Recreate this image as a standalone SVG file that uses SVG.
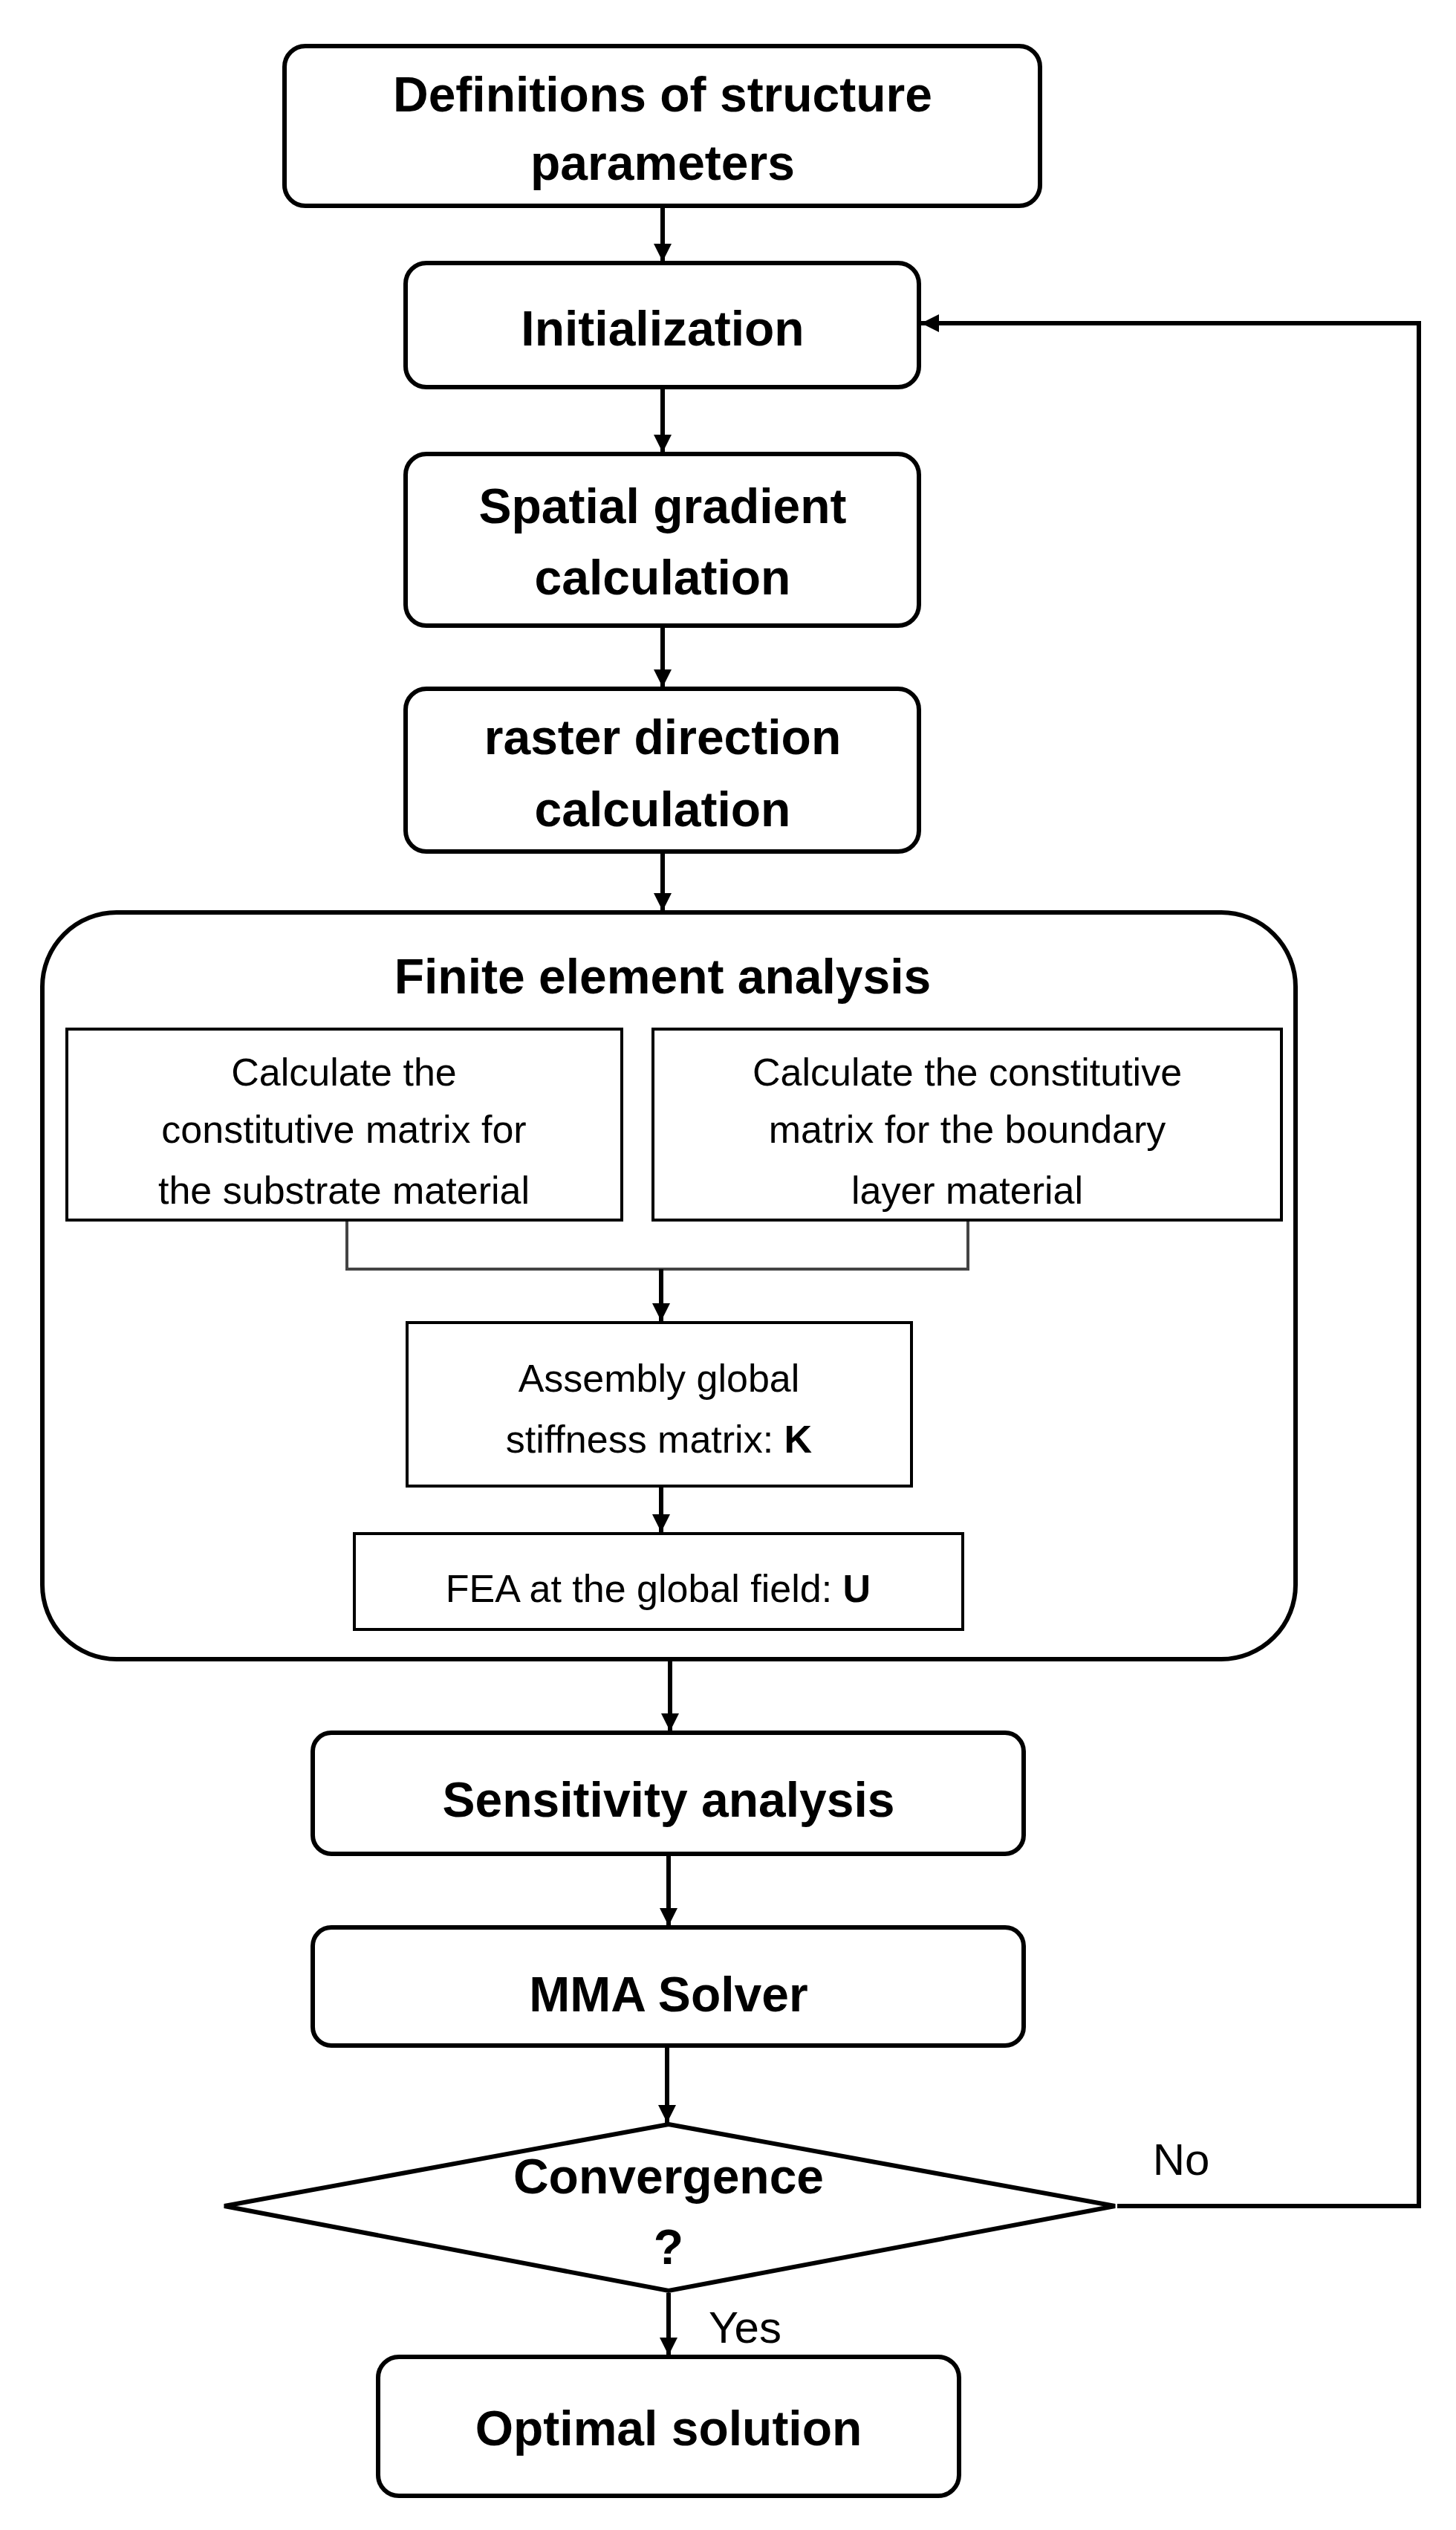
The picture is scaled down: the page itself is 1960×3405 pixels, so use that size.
<svg xmlns="http://www.w3.org/2000/svg" width="1960" height="3405" viewBox="0 0 1960 3405">
<style>
.b{fill:#fff;stroke:#000;stroke-width:6}
.i{fill:#fff;stroke:#000;stroke-width:4}
.t{font-family:"Liberation Sans",Arial,sans-serif;font-weight:bold;font-size:66px;text-anchor:middle;fill:#000}
.s{font-family:"Liberation Sans",Arial,sans-serif;font-size:52px;text-anchor:middle;fill:#000}
.c{fill:none;stroke:#000;stroke-width:6}
.g{fill:none;stroke:#444;stroke-width:4}
</style>
<defs>
<marker id="a" viewBox="0 0 10 10" refX="10" refY="5" markerWidth="5" markerHeight="4" markerUnits="strokeWidth" orient="auto"><path d="M0,0L10,5L0,10z" fill="#000"/></marker>
</defs>
<rect width="1960" height="3405" fill="#fff"/>
<g id="n1"><rect class="b" x="383" y="62" width="1017" height="215" rx="28"/><text class="t" x="892" y="150">Definitions of structure</text><text class="t" x="892" y="242">parameters</text></g>
<g id="n2"><rect class="b" x="546" y="354" width="691" height="167" rx="28"/><text class="t" x="892" y="465">Initialization</text></g>
<g id="n3"><rect class="b" x="546" y="611" width="691" height="231" rx="28"/><text class="t" x="892" y="704">Spatial gradient</text><text class="t" x="892" y="800">calculation</text></g>
<g id="n4"><rect class="b" x="546" y="927" width="691" height="219" rx="28"/><text class="t" x="892" y="1015">raster direction</text><text class="t" x="892" y="1112">calculation</text></g>
<g id="fea"><rect class="b" x="57" y="1228" width="1687" height="1005" rx="100"/><text class="t" x="892" y="1337">Finite element analysis</text>
<g id="n5"><rect class="i" x="90" y="1385" width="747" height="257"/><text class="s" x="463" y="1461">Calculate the</text><text class="s" x="463" y="1538">constitutive matrix for</text><text class="s" x="463" y="1620">the substrate material</text></g>
<g id="n6"><rect class="i" x="879" y="1385" width="846" height="257"/><text class="s" x="1302" y="1461">Calculate the constitutive</text><text class="s" x="1302" y="1538">matrix for the boundary</text><text class="s" x="1302" y="1620">layer material</text></g>
<g id="n7"><rect class="i" x="548" y="1780" width="679" height="220"/><text class="s" x="887" y="1873">Assembly global</text><text class="s" x="887" y="1955">stiffness matrix: <tspan font-weight="bold">K</tspan></text></g>
<g id="n8"><rect class="i" x="477" y="2064" width="819" height="129"/><text class="s" x="886" y="2156">FEA at the global field: <tspan font-weight="bold">U</tspan></text></g>
</g>
<g id="n9"><rect class="b" x="421" y="2332" width="957" height="163" rx="25"/><text class="t" x="900" y="2445">Sensitivity analysis</text></g>
<g id="n10"><rect class="b" x="421" y="2594" width="957" height="159" rx="25"/><text class="t" x="900" y="2707">MMA Solver</text></g>
<g id="n11"><polygon class="b" points="900,2859 1501,2969 900,3083 302,2969"/><text class="t" x="900" y="2952">Convergence</text><text class="t" x="900" y="3047">?</text></g>
<g id="n12"><rect class="b" x="509" y="3172" width="782" height="187" rx="28"/><text class="t" x="900" y="3291">Optimal solution</text></g>
<g id="connectors">
<line class="c" x1="892" y1="277" x2="892" y2="352" marker-end="url(#a)"/>
<line class="c" x1="892" y1="521" x2="892" y2="609" marker-end="url(#a)"/>
<line class="c" x1="892" y1="842" x2="892" y2="925" marker-end="url(#a)"/>
<line class="c" x1="892" y1="1146" x2="892" y2="1226" marker-end="url(#a)"/>
<polyline class="g" points="467,1644 467,1708 1303,1708 1303,1644"/>
<line class="c" x1="890" y1="1708" x2="890" y2="1778" marker-end="url(#a)"/>
<line class="c" x1="890" y1="2002" x2="890" y2="2062" marker-end="url(#a)"/>
<line class="c" x1="902" y1="2236" x2="902" y2="2330" marker-end="url(#a)"/>
<line class="c" x1="900" y1="2498" x2="900" y2="2592" marker-end="url(#a)"/>
<line class="c" x1="898" y1="2756" x2="898" y2="2857" marker-end="url(#a)"/>
<line class="c" x1="900" y1="3086" x2="900" y2="3170" marker-end="url(#a)"/>
<polyline class="c" points="1504,2969 1910,2969 1910,435 1240,435" marker-end="url(#a)"/>
<text class="s" x="1590" y="2927" style="font-size:60px">No</text>
<text class="s" x="1003" y="3153" style="font-size:60px">Yes</text>
</g>
</svg>
